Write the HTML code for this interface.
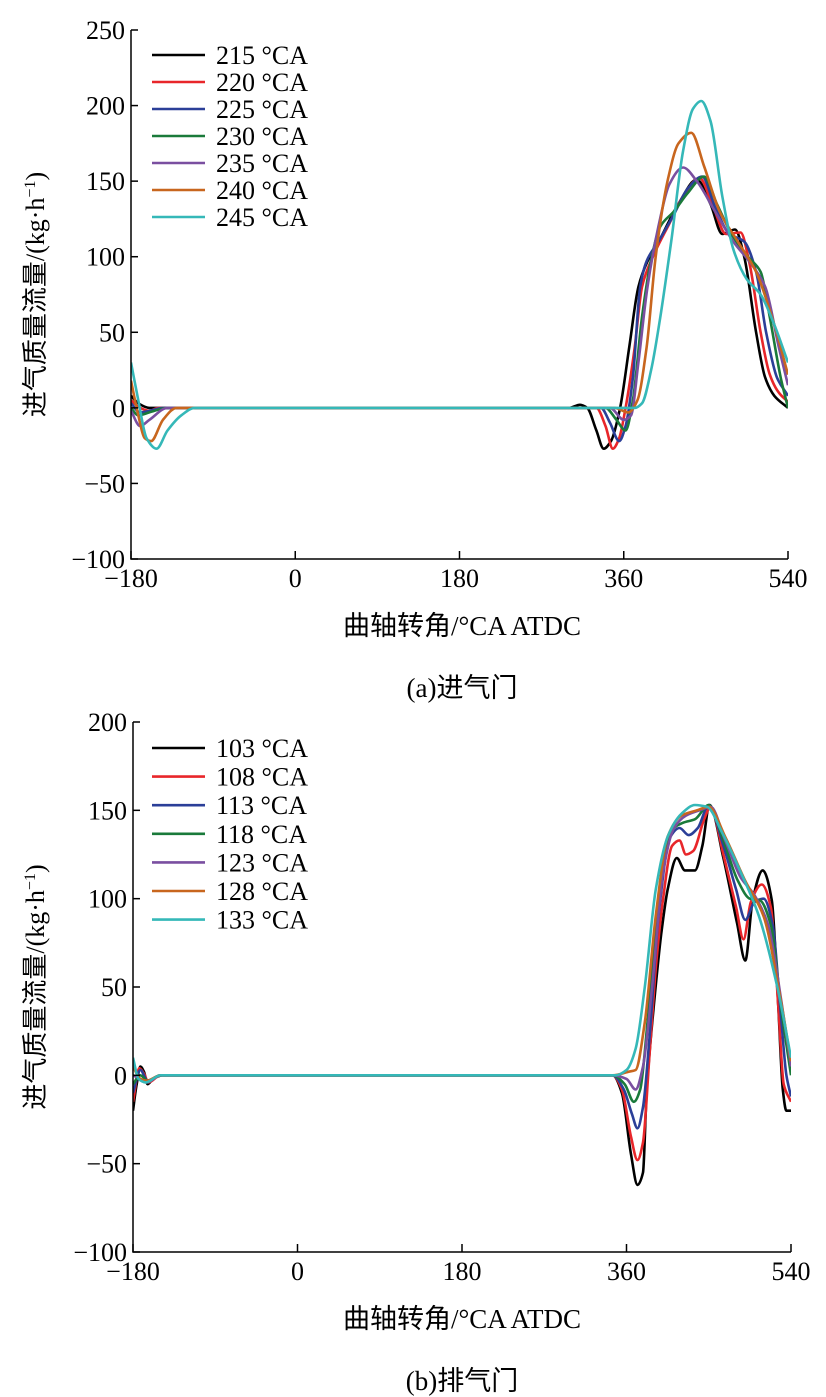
<!DOCTYPE html>
<html><head><meta charset="utf-8"><style>
body{margin:0;background:#fff}
svg{display:block}
text{font-family:"Liberation Serif","Noto Serif CJK SC",serif;fill:#000}
.cjk{font-family:"Liberation Serif","Noto Sans CJK SC",sans-serif}
</style></head><body>
<svg id="c" width="826" height="1397" viewBox="0 0 826 1397" xmlns="http://www.w3.org/2000/svg"></svg>
<script>
const colors=["#000000","#e8262a","#2b3f98","#1a7a3a","#7a4fa0","#c8661e","#35b8b8"];
const xTicks=[-180,0,180,360,540];
const yTicksA=[-100,-50,0,50,100,150,200,250];
const yTicksB=[-100,-50,0,50,100,150,200];
const namesA=["215 °CA","220 °CA","225 °CA","230 °CA","235 °CA","240 °CA","245 °CA"];
const namesB=["103 °CA","108 °CA","113 °CA","118 °CA","123 °CA","128 °CA","133 °CA"];
const s215=[[-180,8],[-172,3],[-160,0],[300,0],[312,2],[320,0],[330,-15],[338,-27],[346,-22],[356,0],[366,40],[376,80],[386,97],[400,112],[420,135],[440,151],[455,135],[468,115],[482,118],[492,100],[505,50],[515,20],[525,8],[540,0]];
const s220=[[-180,5],[-170,0],[-160,-2],[-150,0],[330,0],[340,-12],[348,-27],[355,-20],[362,0],[372,40],[380,80],[392,100],[410,122],[425,140],[443,152],[458,133],[472,115],[488,116],[498,95],[510,50],[520,22],[530,10],[540,4]];
const s225=[[-180,3],[-170,-3],[-160,-2],[-145,0],[335,0],[345,-10],[355,-22],[362,-12],[370,20],[378,80],[385,97],[398,110],[415,128],[430,145],[446,153],[460,133],[476,115],[492,110],[505,90],[516,50],[528,20],[540,8]];
const s230=[[-180,0],[-172,-5],[-160,-3],[-140,0],[340,0],[352,-8],[362,-15],[370,5],[380,60],[390,98],[400,120],[415,130],[430,142],[448,153],[462,135],[480,113],[496,100],[510,90],[520,60],[532,20],[540,0]];
const s235=[[-180,-2],[-170,-12],[-160,-8],[-140,0],[345,0],[360,-8],[368,-5],[376,30],[386,80],[398,120],[410,148],[425,159],[440,150],[460,130],[480,110],[500,95],[515,80],[530,40],[540,15]];
const s240=[[-180,18],[-172,-5],[-165,-20],[-158,-22],[-145,-8],[-130,0],[350,0],[365,-3],[375,5],[385,40],[395,100],[408,150],[420,175],[434,182],[448,160],[465,130],[485,110],[505,90],[525,55],[540,22]];
const s245=[[-180,30],[-172,5],[-163,-20],[-152,-27],[-140,-15],[-125,-5],[-110,0],[360,0],[372,0],[380,3],[390,25],[400,60],[412,110],[425,170],[436,198],[445,203],[455,190],[468,140],[480,105],[495,85],[510,75],[525,55],[540,30]];
const b103=[[-180,-20],[-176,-5],[-172,5],[-168,2],[-164,-5],[-158,-2],[-148,0],[345,0],[355,-10],[365,-45],[372,-62],[378,-55],[382,-10],[390,40],[398,80],[405,105],[415,123],[424,116],[435,116],[443,130],[451,153],[466,123],[481,86],[490,65],[498,99],[509,116],[519,99],[526,40],[531,-8],[535,-20],[540,-20]];
const b108=[[-180,-15],[-173,4],[-168,1],[-163,-4],[-150,0],[345,0],[355,-8],[365,-35],[372,-48],[378,-38],[385,10],[392,60],[400,100],[410,130],[418,133],[425,125],[433,127],[445,145],[452,152],[466,125],[480,95],[488,77],[496,98],[508,108],[518,95],[526,40],[532,-5],[540,-15]];
const b113=[[-180,-10],[-172,3],[-164,-3],[-150,0],[345,0],[357,-8],[366,-22],[372,-30],[378,-18],[385,20],[395,90],[408,135],[418,140],[428,136],[438,140],[450,153],[466,130],[480,105],[490,88],[500,98],[510,100],[520,85],[528,40],[535,0],[540,-12]];
const b118=[[-180,-5],[-172,0],[-164,-3],[-150,0],[345,0],[358,-5],[368,-15],[375,-8],[383,30],[395,100],[408,138],[422,143],[435,145],[450,153],[466,133],[482,110],[495,100],[506,99],[518,85],[530,35],[540,0]];
const b123=[[-180,0],[-172,-2],[-165,-4],[-150,0],[345,0],[360,-2],[370,-8],[378,5],[388,50],[400,115],[412,140],[425,147],[440,150],[452,152],[468,133],[485,112],[500,102],[515,85],[530,40],[540,5]];
const b128=[[-180,5],[-172,-2],[-165,-3],[-150,0],[345,0],[362,2],[370,3],[380,30],[392,90],[405,135],[420,147],[437,150],[450,152],[468,135],[490,110],[510,90],[528,45],[540,8]];
const b133=[[-180,10],[-174,-2],[-166,-4],[-150,0],[348,0],[360,3],[370,15],[380,50],[392,105],[405,135],[420,148],[435,153],[448,152],[465,137],[485,115],[505,90],[525,50],[540,10]];
const seriesA=[s215,s220,s225,s230,s235,s240,s245];
const seriesB=[b103,b108,b113,b118,b123,b128,b133];

const NS="http://www.w3.org/2000/svg";
const svg=document.getElementById('c');
function mk(tag,attrs,parent){const e=document.createElementNS(NS,tag);for(const k in attrs)e.setAttribute(k,attrs[k]);(parent||svg).appendChild(e);return e;}
function smooth(p){const n=p.length;const d=[],m=[];
 for(let i=0;i<n-1;i++)d.push((p[i+1][1]-p[i][1])/(p[i+1][0]-p[i][0]));
 m[0]=d[0];m[n-1]=d[n-2];
 for(let i=1;i<n-1;i++){if(d[i-1]*d[i]<=0)m[i]=0;else{const h0=p[i][0]-p[i-1][0],h1=p[i+1][0]-p[i][0];const w1=2*h1+h0,w2=h1+2*h0;m[i]=(w1+w2)/(w1/d[i-1]+w2/d[i]);}}
 let s="M"+p[0][0].toFixed(1)+","+p[0][1].toFixed(1);
 for(let i=0;i<n-1;i++){const h=(p[i+1][0]-p[i][0])/3;
  s+="C"+(p[i][0]+h).toFixed(1)+","+(p[i][1]+m[i]*h).toFixed(1)+" "+(p[i+1][0]-h).toFixed(1)+","+(p[i+1][1]-m[i+1]*h).toFixed(1)+" "+p[i+1][0].toFixed(1)+","+p[i+1][1].toFixed(1);}
 return s;}
function chart(o){
 const g=mk('g',{});
 
 
 const X=v=>o.x0+(v-(-180))/720*(o.x1-o.x0);
 const Y=v=>o.y1-(v-o.ymin)/(o.ymax-o.ymin)*(o.y1-o.y0);
 const clip='clip'+o.name;
 const cp=mk('clipPath',{id:clip},g);mk('rect',{x:o.x0,y:o.y0-5,width:o.x1-o.x0,height:o.y1-o.y0+5},cp);
 const lines=mk('g',{'clip-path':'url(#'+clip+')'},g);
 o.series.forEach((s,i)=>{const p=mk('path',{d:smooth(s.map(q=>[X(q[0]),Y(q[1])])),fill:'none',stroke:colors[i],'stroke-width':2.6},lines);
  
  });
 const ax=mk('path',{d:`M${o.x0},${o.y0}V${o.y1}H${o.x1}`,fill:'none',stroke:'#000','stroke-width':1.5},g);
 
 
 o.yt.forEach(v=>{mk('line',{x1:o.x0,x2:o.x0+7,y1:Y(v),y2:Y(v),stroke:'#000','stroke-width':1.5},g);
  const t=mk('text',{x:o.x0-6,y:Y(v)+9,'text-anchor':'end','font-size':26},g);t.textContent=(v<0?'−':'')+Math.abs(v);
  
  });
 xTicks.forEach(v=>{mk('line',{x1:X(v),x2:X(v),y1:o.y1,y2:o.y1-8,stroke:'#000','stroke-width':1.5},g);
  const t=mk('text',{x:X(v),y:o.y1+28,'text-anchor':'middle','font-size':26},g);t.textContent=(v<0?'−':'')+Math.abs(v);
  
  });
 o.names.forEach((n,i)=>{const y=o.ly+i*o.ls;
  mk('line',{x1:152,x2:205,y1:y,y2:y,stroke:colors[i],'stroke-width':2.6},g);
  const t=mk('text',{x:216,y:y+9,'font-size':26},g);t.textContent=n;
  
  });
 const xt=mk('text',{x:462,y:o.y1+76,'text-anchor':'middle','font-size':27,class:'cjk'},g);xt.textContent='曲轴转角/°CA ATDC';
 
 
 const cy=(o.y0+o.y1)/2;
 const yt=mk('text',{transform:`translate(44,${cy}) rotate(-90)`,'text-anchor':'middle','font-size':26,class:'cjk'},g);
 yt.innerHTML='进气质量流量/(kg·h<tspan dy="-9" font-size="16">−1</tspan><tspan dy="9">)</tspan>';
 
 
 const cap=mk('text',{x:462,y:o.y1+138,'text-anchor':'middle','font-size':27,class:'cjk'},g);cap.textContent=o.cap;
 
 
}
chart({name:'chart-intake',x0:131,x1:788,y0:30,y1:559,ymin:-100,ymax:250,yt:yTicksA,series:seriesA,names:namesA,ly:55,ls:27,cap:'(a)进气门'});
chart({name:'chart-exhaust',x0:133,x1:791,y0:722,y1:1252,ymin:-100,ymax:200,yt:yTicksB,series:seriesB,names:namesB,ly:748,ls:28.6,cap:'(b)排气门'});
</script>
</body></html>
